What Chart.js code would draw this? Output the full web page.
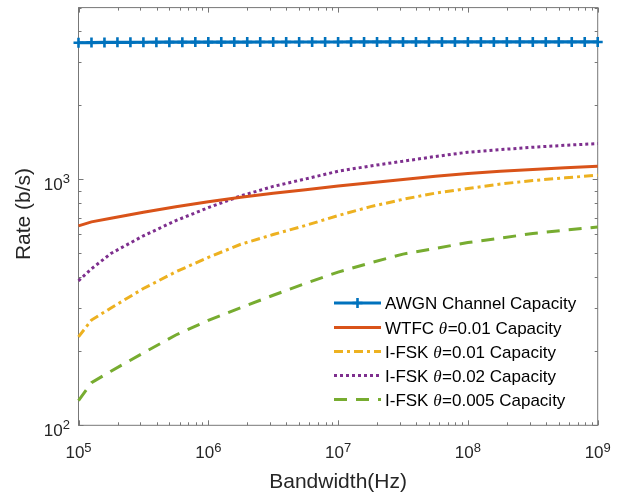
<!DOCTYPE html>
<html>
<head>
<meta charset="utf-8">
<script src="https://cdn.jsdelivr.net/npm/chart.js@4/dist/chart.umd.min.js"></script>
<style>
  body { margin: 0; background: #fff; }
</style>
</head>
<body>
<canvas id="rateChart" width="632" height="493"></canvas>
<script>
// sample positions, as powers of ten of the bandwidth
const awgnExp = [5.0, 5.1, 5.2, 5.3, 5.4, 5.5, 5.6, 5.7, 5.8, 5.9,
                 6.0, 6.1, 6.2, 6.3, 6.4, 6.5, 6.6, 6.7, 6.8, 6.9,
                 7.0, 7.1, 7.2, 7.3, 7.4, 7.5, 7.6, 7.7, 7.8, 7.9,
                 8.0, 8.1, 8.2, 8.3, 8.4, 8.5, 8.6, 8.7, 8.8, 8.9, 9.0];
const curveExp = [5, 5.1, 5.25, 5.5, 5.75, 6, 6.25, 6.5, 6.75, 7, 7.25, 7.5, 7.75, 8, 8.25, 8.5, 8.75, 9];

// rates (b/s)
const awgnRate = [3598, 3604, 3608, 3611, 3613, 3615, 3616, 3617, 3618, 3619,
                  3620, 3620, 3621, 3621, 3622, 3622, 3622, 3623, 3623, 3623,
                  3623, 3624, 3624, 3624, 3624, 3624, 3624, 3625, 3625, 3625,
                  3625, 3625, 3625, 3625, 3625, 3625, 3625, 3625, 3625, 3625, 3625];
const wtfcRate   = [647, 672, 695, 735, 775, 811, 846, 878, 908, 940, 970, 1000, 1030, 1058, 1080, 1098, 1115, 1132];
const fsk01Rate  = [229, 268, 300, 360, 421, 482, 545, 597, 650, 713, 775, 830, 880, 918, 958, 990, 1015, 1041];
const fsk02Rate  = [387, 433, 500, 590, 680, 768, 857, 937, 1005, 1080, 1135, 1186, 1240, 1291, 1322, 1352, 1377, 1399];
const fsk005Rate = [126, 149, 166, 197, 233, 267, 301, 338, 378, 420, 458, 497, 524, 554, 577, 603, 622, 641];

const seriesNames = ['AWGN Channel Capacity', 'WTFC θ=0.01 Capacity', 'I-FSK θ=0.01 Capacity',
                     'I-FSK θ=0.02 Capacity', 'I-FSK θ=0.005 Capacity'];
const xTickExp = [5, 6, 7, 8, 9];
const yTickExp = [2, 3];

function toPoints(exps, vals) {
    return exps.map((e, i) => ({ x: Math.pow(10, e), y: vals[i] }));
}

const FONT = '"Liberation Sans", Arial, sans-serif';

// axes box, inward ticks, tick labels, titles and legend, MATLAB style
const matlabAxes = {
    id: 'matlabAxes',
    beforeDatasetsDraw(chart) {
        const { ctx, chartArea: a } = chart;
        const xs = chart.scales.x, ys = chart.scales.y;
        ctx.save();
        ctx.strokeStyle = '#777';
        ctx.lineWidth = 1;
        ctx.strokeRect(a.left, a.top, a.right - a.left, a.bottom - a.top);
        ctx.beginPath();
        for (let n = 5; n <= 9; n++) {
            for (let k = 1; k <= 9; k++) {
                const v = k * Math.pow(10, n);
                if (v > 1e9) break;
                const p = Math.round(xs.getPixelForValue(v)) + 0.5;
                const len = k === 1 ? 5 : 3;
                ctx.moveTo(p, a.bottom); ctx.lineTo(p, a.bottom - len);
                ctx.moveTo(p, a.top); ctx.lineTo(p, a.top + len);
            }
        }
        for (let n = 2; n <= 3; n++) {
            for (let k = 1; k <= 9; k++) {
                const v = k * Math.pow(10, n);
                if (v > 5000) break;
                const p = Math.round(ys.getPixelForValue(v)) + 0.5;
                const len = k === 1 ? 5 : 3;
                ctx.moveTo(a.left, p); ctx.lineTo(a.left + len, p);
                ctx.moveTo(a.right, p); ctx.lineTo(a.right - len, p);
            }
        }
        ctx.stroke();
        ctx.restore();
    },
    afterDraw(chart) {
        const { ctx, chartArea: a } = chart;
        const xs = chart.scales.x, ys = chart.scales.y;
        ctx.save();
        ctx.fillStyle = '#262626';
        ctx.textBaseline = 'alphabetic';
        ctx.textAlign = 'left';

        const baseFont = '17px ' + FONT, supFont = '13px ' + FONT;
        xTickExp.forEach(e => {
            const px = xs.getPixelForValue(Math.pow(10, e));
            ctx.font = baseFont; const w1 = ctx.measureText('10').width;
            ctx.font = supFont; const w2 = ctx.measureText(String(e)).width;
            const x0 = px - (w1 + w2) / 2;
            ctx.font = baseFont; ctx.fillText('10', x0, a.bottom + 33);
            ctx.font = supFont; ctx.fillText(String(e), x0 + w1, a.bottom + 26.5);
        });
        yTickExp.forEach(e => {
            const py = ys.getPixelForValue(Math.pow(10, e));
            ctx.font = baseFont; const w1 = ctx.measureText('10').width;
            ctx.font = supFont; const w2 = ctx.measureText(String(e)).width;
            const x0 = a.left - 8.5 - w1 - w2;
            ctx.font = baseFont; ctx.fillText('10', x0, py + 11);
            ctx.font = supFont; ctx.fillText(String(e), x0 + w1, py + 3.5);
        });

        // axis titles
        ctx.font = '21px ' + FONT;
        ctx.textAlign = 'center';
        ctx.fillText('Bandwidth(Hz)', (a.left + a.right) / 2, 488);
        ctx.save();
        ctx.translate(30, 214);
        ctx.rotate(-Math.PI / 2);
        ctx.fillText('Rate (b/s)', 0, 0);
        ctx.restore();

        // legend
        const lx0 = 334, lx1 = 381, tx = 385;
        const rowY = [303, 327.5, 351.5, 375.5, 399.5];
        chart.data.datasets.forEach((ds, i) => {
            const y = rowY[i];
            ctx.save();
            ctx.strokeStyle = ds.borderColor;
            ctx.lineWidth = ds.borderWidth;
            ctx.setLineDash(ds.borderDash || []);
            ctx.beginPath();
            ctx.moveTo(lx0, y); ctx.lineTo(lx1, y);
            ctx.stroke();
            if (ds.pointStyle === 'cross') {
                ctx.setLineDash([]);
                ctx.lineWidth = ds.pointBorderWidth;
                const cx = (lx0 + lx1) / 2, r = ds.pointRadius;
                ctx.beginPath();
                ctx.moveTo(cx - r, y); ctx.lineTo(cx + r, y);
                ctx.moveTo(cx, y - r); ctx.lineTo(cx, y + r);
                ctx.stroke();
            }
            ctx.restore();

            ctx.fillStyle = '#000';
            ctx.textAlign = 'left';
            const parts = seriesNames[i].split('θ');
            let x = tx;
            const ty = y + 6;
            ctx.font = '17px ' + FONT;
            ctx.fillText(parts[0], x, ty);
            x += ctx.measureText(parts[0]).width;
            if (parts.length > 1) {
                ctx.font = 'italic 17px "Liberation Serif", serif';
                ctx.fillText('θ', x, ty);
                x += ctx.measureText('θ').width + 0.5;
                ctx.font = '17px ' + FONT;
                ctx.fillText(parts[1], x, ty);
            }
        });
        ctx.restore();
    }
};

const ctx = document.getElementById('rateChart').getContext('2d');
const rateChart = new Chart(ctx, {
    type: 'line',
    data: {
        datasets: [
            {
                label: seriesNames[0],
                data: toPoints(awgnExp, awgnRate),
                borderColor: '#0072BD',
                backgroundColor: '#0072BD',
                borderWidth: 3.2,
                pointStyle: 'cross',
                pointRadius: 5,
                pointBorderWidth: 2.6,
                pointBorderColor: '#0072BD'
            },
            {
                label: seriesNames[1],
                data: toPoints(curveExp, wtfcRate),
                borderColor: '#D95319',
                borderWidth: 3,
                pointRadius: 0
            },
            {
                label: seriesNames[2],
                data: toPoints(curveExp, fsk01Rate),
                borderColor: '#EDB120',
                borderWidth: 3,
                borderDash: [9, 4, 3, 4],
                pointRadius: 0
            },
            {
                label: seriesNames[3],
                data: toPoints(curveExp, fsk02Rate),
                borderColor: '#7E2F8E',
                borderWidth: 3,
                borderDash: [3, 3],
                pointRadius: 0
            },
            {
                label: seriesNames[4],
                data: toPoints(curveExp, fsk005Rate),
                borderColor: '#77AC30',
                borderWidth: 3,
                borderDash: [13, 9],
                pointRadius: 0
            }
        ]
    },
    options: {
        responsive: false,
        animation: false,
        clip: false,
        layout: { padding: { left: 78.5, right: 34.3, top: 5.6, bottom: 67.7 } },
        elements: { line: { tension: 0 } },
        scales: {
            x: { type: 'logarithmic', min: 1e5, max: 1e9, display: false },
            y: { type: 'logarithmic', min: 100, max: 5000, display: false }
        },
        plugins: {
            legend: { display: false },
            tooltip: { enabled: false }
        }
    },
    plugins: [matlabAxes]
});
</script>
</body>
</html>
